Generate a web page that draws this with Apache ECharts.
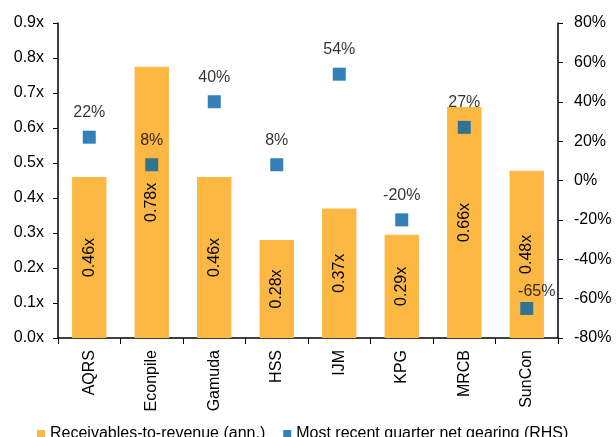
<!DOCTYPE html>
<html>
<head>
<meta charset="utf-8">
<script src="https://cdn.jsdelivr.net/npm/echarts@6/dist/echarts.min.js"></script>
<style>
  html, body { margin: 0; padding: 0; background: #fff; }
  #main { width: 616px; height: 437px; }
</style>
</head>
<body>
<div id="main"></div>
<script>
  // 数据
  var companies = ['AQRS', 'Econpile', 'Gamuda', 'HSS', 'IJM', 'KPG', 'MRCB', 'SunCon'];
  var receivables = [0.46, 0.775, 0.46, 0.28, 0.37, 0.295, 0.66, 0.478];
  var gearing = [22, 8, 40, 8, 54, -20, 27, -65];
  var leftTicks = [0, 0.9, 0.1];
  var rightTicks = [-80, 80, 20];

  var font = '"Liberation Sans", Arial, sans-serif';
  var txt = { color: '#000', fontSize: 16, fontFamily: font };

  var myChart = echarts.init(document.getElementById('main'));

  var gearData = gearing.map(function (v, i) {
    var item = { value: v };
    if (companies[i] === 'SunCon') {
      item.label = { offset: [10, 8] };
    }
    return item;
  });

  var option = {
    animation: false,
    grid: { left: 58, right: 58, top: 23, bottom: 99 },
    legend: {
      top: 421,
      left: 32,
      itemWidth: 8,
      itemHeight: 8,
      itemGap: 18,
      textStyle: { color: '#000', fontSize: 16, fontFamily: font },
      data: [
        { name: 'Receivables-to-revenue (ann.)', icon: 'rect' },
        { name: 'Most recent quarter net gearing (RHS)', icon: 'rect' }
      ]
    },
    xAxis: {
      type: 'category',
      data: companies,
      axisLine: { lineStyle: { color: '#000', width: 1.5 } },
      axisTick: { show: true, length: 6, lineStyle: { color: '#000' } },
      axisLabel: Object.assign({ rotate: 90, margin: 12 }, txt)
    },
    yAxis: [
      {
        type: 'value',
        min: leftTicks[0], max: leftTicks[1], interval: leftTicks[2],
        axisLine: { show: true, lineStyle: { color: '#000', width: 1.5 } },
        axisTick: { show: true, length: 5, lineStyle: { color: '#000' } },
        splitLine: { show: false },
        axisLabel: Object.assign({
          margin: 14,
          formatter: function (v) { return v.toFixed(1) + 'x'; }
        }, txt)
      },
      {
        type: 'value',
        min: rightTicks[0], max: rightTicks[1], interval: rightTicks[2],
        axisLine: { show: true, lineStyle: { color: '#000', width: 1.5 } },
        axisTick: { show: true, length: 5, lineStyle: { color: '#000' } },
        splitLine: { show: false },
        axisLabel: Object.assign({
          margin: 16,
          formatter: function (v) { return v + '%'; }
        }, txt)
      }
    ],
    series: [
      {
        name: 'Receivables-to-revenue (ann.)',
        type: 'bar',
        yAxisIndex: 0,
        barWidth: '55%',
        data: receivables,
        itemStyle: { color: '#FDB844' },
        label: Object.assign({
          show: true,
          position: 'inside',
          rotate: 90,
          formatter: function (p) { return p.value.toFixed(2) + 'x'; }
        }, txt)
      },
      {
        name: 'Most recent quarter net gearing (RHS)',
        type: 'scatter',
        yAxisIndex: 1,
        symbol: 'rect',
        symbolSize: 13,
        data: gearData,
        itemStyle: { color: '#0062A6' },
        label: Object.assign({
          show: true,
          position: 'top',
          distance: 10,
          formatter: function (p) { return p.value + '%'; }
        }, txt)
      }
    ]
  };

  myChart.setOption(option);
</script>
</body>
</html>
